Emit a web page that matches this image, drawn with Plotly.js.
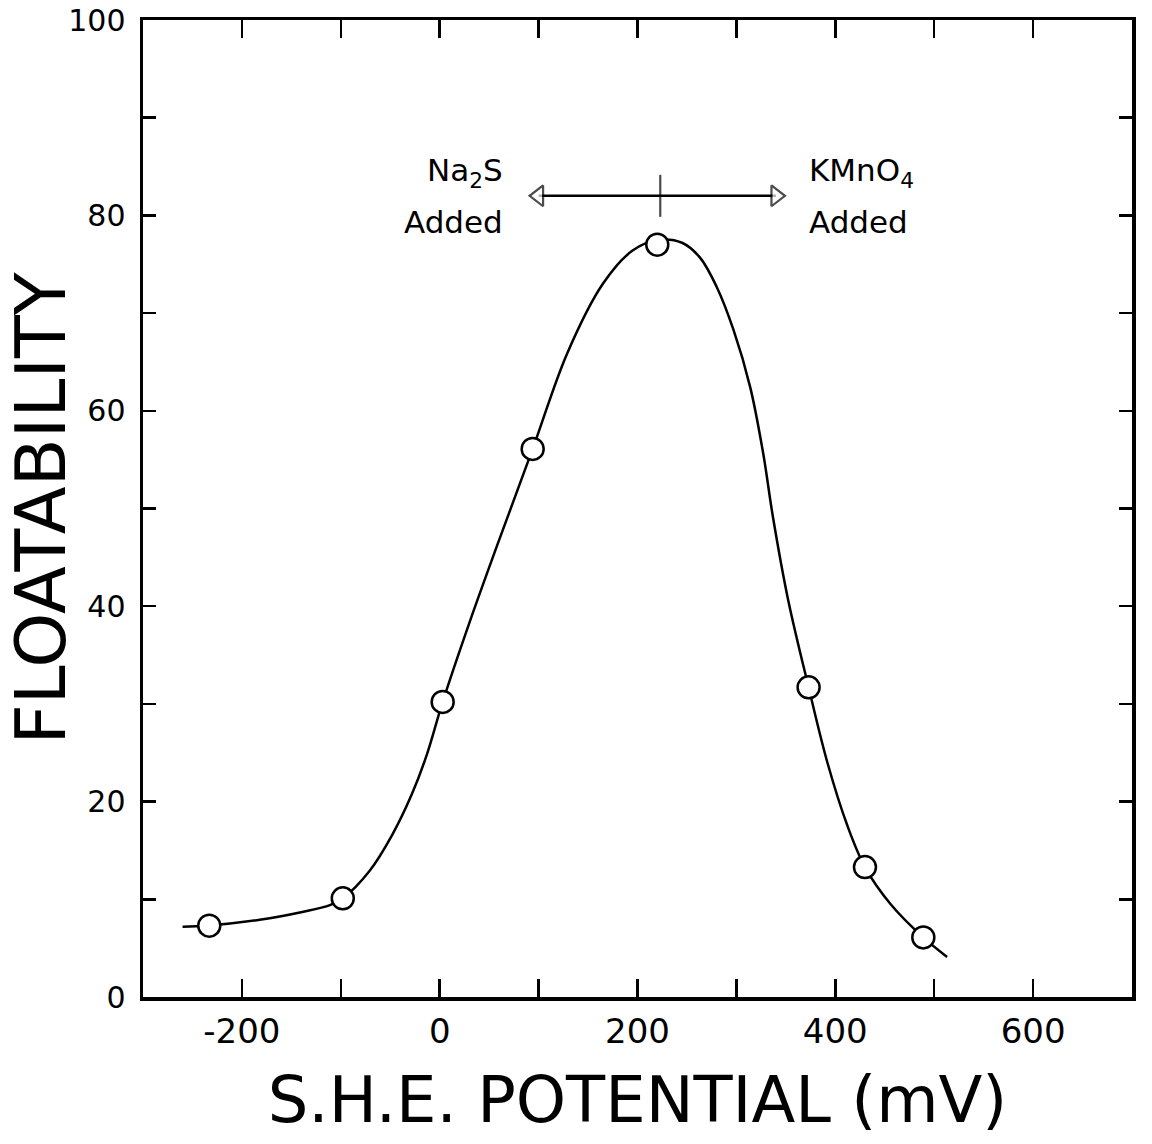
<!DOCTYPE html>
<html>
<head>
<meta charset="utf-8">
<script src="https://cdn.plot.ly/plotly-3.0.1.min.js"></script>
<style>html,body{margin:0;padding:0;background:#fff;}#chart{width:1152px;height:1144px;}</style>
</head>
<body>
<div id="chart"></div>
<script>
// Measured points (S.H.E. potential in mV, floatability %)
const pointsX = [-233, -98, 3, 94, 220, 373, 430, 489];
const pointsY = [7.3, 10.1, 30.2, 56.1, 77.0, 31.7, 13.3, 6.1];

// Hand-drawn smooth curve
const curveX = [-260, -235, -182, -139, -111, -98, -71, -48, -28, -13, 3, 30, 58, 94, 129, 165, 195, 222, 245, 263, 280, 297, 314, 327, 337, 352, 373, 392, 412, 430, 456, 489, 513];
const curveY = [7.2, 7.3, 7.9, 8.7, 9.4, 10.1, 12.9, 16.6, 20.8, 24.8, 30.2, 38.3, 46.2, 56.1, 65.9, 73.0, 76.4, 77.5, 77.2, 75.7, 72.7, 68.3, 62.4, 55.7, 49.1, 40.8, 31.7, 24.0, 17.6, 13.3, 9.5, 6.1, 4.1];

// Double arrow marking the reagent direction
const arrowX = [100, 223, 340];
const arrowY = [82, 82, 82];

// X tick labels as printed
const xTickVals = [-200, 0, 200, 400, 600];
const xTickText = ['-200', '0', '200', '400', '600'];

// Annotation labels
const leftLines = ['Na<sub>2</sub>S', 'Added'];
const rightLines = ['KMnO<sub>4</sub>', 'Added'];
const labelLeftX = 66, labelRightX = 371;
const labelLineY = [84.4, 79.3];

const xTitle = 'S.H.E. POTENTIAL (mV)';
const yTitle = 'FLOATABILITY';

const FONT = 'DejaVu Sans, Liberation Sans, sans-serif';

const traces = [
  {
    x: curveX, y: curveY, mode: 'lines', type: 'scatter',
    line: {color: '#000', width: 2.5, shape: 'spline', smoothing: 1},
    hoverinfo: 'skip', showlegend: false
  },
  {
    x: pointsX, y: pointsY, mode: 'markers', type: 'scatter',
    marker: {symbol: 'circle', size: 22, color: '#fff', line: {color: '#000', width: 2.5}},
    showlegend: false
  },
  {
    x: arrowX, y: arrowY, mode: 'lines+markers', type: 'scatter',
    line: {color: '#000', width: 2.5},
    marker: {symbol: ['triangle-left', 'line-ns', 'triangle-right'], size: [18, 30, 18], color: '#fff',
             line: {color: '#000', width: 2.2}},
    hoverinfo: 'skip', showlegend: false
  }
];

const axisCommon = {
  showgrid: false, zeroline: false, showline: true, linecolor: '#000', linewidth: 3.5,
  mirror: 'ticks', ticks: 'inside', tickcolor: '#000', tickwidth: 2.5,
};

const annFont = {family: FONT, size: 31, color: '#000'};
const annotations = [];
leftLines.forEach((t, i) => annotations.push({
  x: labelLeftX, y: labelLineY[i], xref: 'x', yref: 'y', text: t, showarrow: false,
  xanchor: 'right', yanchor: 'middle', align: 'right', font: annFont
}));
rightLines.forEach((t, i) => annotations.push({
  x: labelRightX, y: labelLineY[i], xref: 'x', yref: 'y', text: t, showarrow: false,
  xanchor: 'left', yanchor: 'middle', align: 'left', font: annFont
}));

const layout = {
  width: 1152, height: 1144,
  margin: {l: 143, r: 20, t: 20, b: 147},
  paper_bgcolor: '#fff', plot_bgcolor: '#fff',
  font: {family: FONT, color: '#000'},
  xaxis: Object.assign({}, axisCommon, {
    range: [-300, 700], tickmode: 'array', tickvals: xTickVals, ticktext: xTickText, ticklen: 18,
    minor: {dtick: 100, tick0: 0, ticks: 'inside', ticklen: 18, tickwidth: 2.5, tickcolor: '#000'},
    tickfont: {family: FONT, size: 34, color: '#000'},
    ticklabelstandoff: 2,
    title: {text: xTitle, font: {family: FONT, size: 64, color: '#000'}, standoff: 28}
  }),
  yaxis: Object.assign({}, axisCommon, {
    range: [0, 100], tick0: 0, dtick: 20, ticklen: 13,
    minor: {dtick: 10, ticks: 'inside', ticklen: 13, tickwidth: 2.5, tickcolor: '#000'},
    tickfont: {family: FONT, size: 30, color: '#000'},
    ticklabelstandoff: 8,
    title: {text: yTitle, font: {family: FONT, size: 70, color: '#000'}, standoff: 12}
  }),
  annotations: annotations
};

Plotly.newPlot('chart', traces, layout, {displayModeBar: false, staticPlot: true});
</script>
</body>
</html>
